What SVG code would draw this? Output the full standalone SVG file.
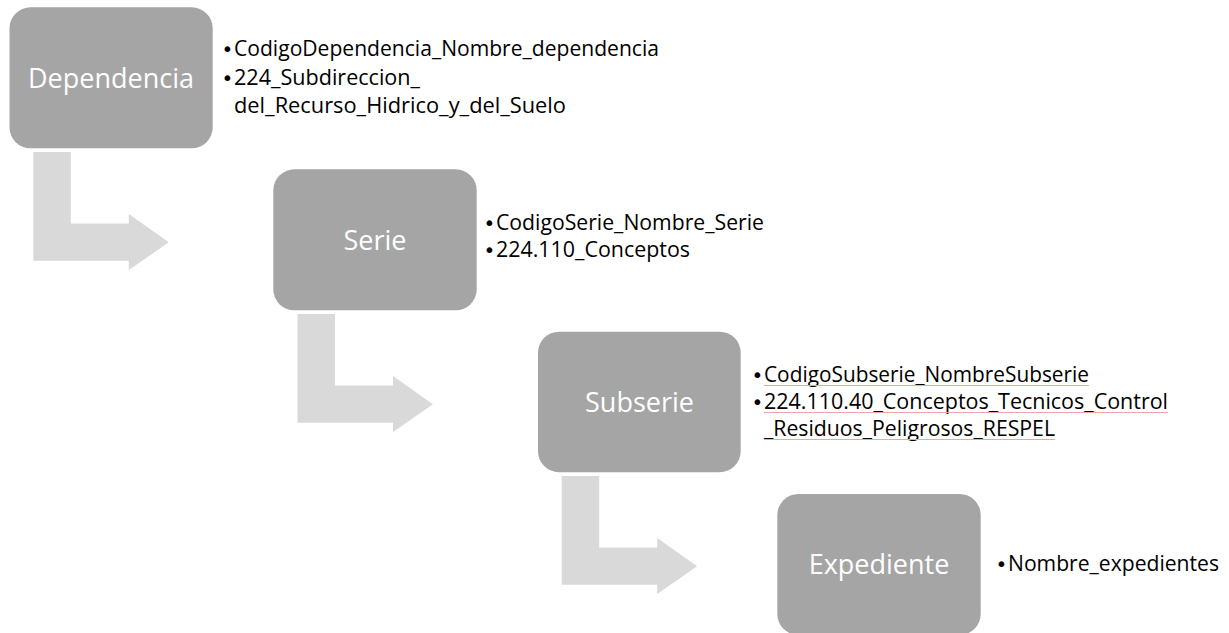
<svg xmlns="http://www.w3.org/2000/svg" width="1229" height="633" viewBox="0 0 1229 633">
  <defs>
    <style>
      .box { fill: #a5a5a5; }
      .label { font-family: "Open Sans", "Noto Sans", sans-serif; font-size: 27px; fill: #ffffff; text-anchor: middle; }
      .item { font-family: "Open Sans", "Noto Sans", sans-serif; font-size: 21px; fill: #000000; }
      .dot { font-family: "DejaVu Sans", sans-serif; font-size: 20px; fill: #000000; }
      .bent { fill: #d9d9d9; }
      .spell { stroke: #f2a3a3; stroke-width: 1.2; fill: none; }
    </style>
    <!-- bent arrow: vertical bar turning right into an arrowhead -->
    <path id="bentArrow" d="M0,0 H37.5 V71.5 H95.5 V62 L135.4,90.3 L95.5,118 V108.8 H0 Z"/>
  </defs>

  <g id="connectors">
    <use href="#bentArrow" class="bent" x="33.3" y="152"/>
    <use href="#bentArrow" class="bent" x="297.5" y="314"/>
    <use href="#bentArrow" class="bent" x="561.7" y="476"/>
  </g>

  <g id="dependencia">
    <rect class="box" x="9.5" y="7.3" width="203.2" height="141" rx="21"/>
    <text class="label" x="111" y="87.5">Dependencia</text>
    <text class="dot" x="221.5" y="56">•</text>
    <text class="item" x="234" y="56" textLength="425" lengthAdjust="spacingAndGlyphs">CodigoDependencia_Nombre_dependencia</text>
    <text class="dot" x="221.5" y="85">•</text>
    <text class="item" x="234" y="85" textLength="186" lengthAdjust="spacingAndGlyphs">224_Subdireccion_</text>
    <text class="item" x="234" y="113" textLength="332" lengthAdjust="spacingAndGlyphs">del_Recurso_Hidrico_y_del_Suelo</text>
  </g>

  <g id="serie">
    <rect class="box" x="273.3" y="169.3" width="203.4" height="141" rx="21"/>
    <text class="label" x="375" y="249.5">Serie</text>
    <text class="dot" x="483.5" y="230">•</text>
    <text class="item" x="496" y="230" textLength="268" lengthAdjust="spacingAndGlyphs">CodigoSerie_Nombre_Serie</text>
    <text class="dot" x="483.5" y="257">•</text>
    <text class="item" x="496" y="257" textLength="194" lengthAdjust="spacingAndGlyphs">224.110_Conceptos</text>
  </g>

  <g id="subserie">
    <rect class="box" x="538" y="331.7" width="202.7" height="140.5" rx="21"/>
    <text class="label" x="639.5" y="411.5">Subserie</text>
    <text class="dot" x="751.5" y="382">•</text>
    <text class="item" x="764" y="382" textLength="325" lengthAdjust="spacingAndGlyphs">CodigoSubserie_NombreSubserie</text>
    <text class="dot" x="751.5" y="409">•</text>
    <text class="item" x="764" y="409" textLength="404" lengthAdjust="spacingAndGlyphs">224.110.40_Conceptos_Tecnicos_Control</text>
    <text class="item" x="764" y="436" textLength="291" lengthAdjust="spacingAndGlyphs">_Residuos_Peligrosos_RESPEL</text>
    <!-- proofing marks under the flagged words -->
    <path class="spell" d="M764,385.5 H1089 M764,412.5 H1168 M764,439.5 H1055"/>
  </g>

  <g id="expediente">
    <rect class="box" x="777.3" y="494" width="203.4" height="141" rx="21"/>
    <text class="label" x="879" y="574">Expediente</text>
    <text class="dot" x="995.5" y="571">•</text>
    <text class="item" x="1008" y="571" textLength="211" lengthAdjust="spacingAndGlyphs">Nombre_expedientes</text>
  </g>
</svg>
